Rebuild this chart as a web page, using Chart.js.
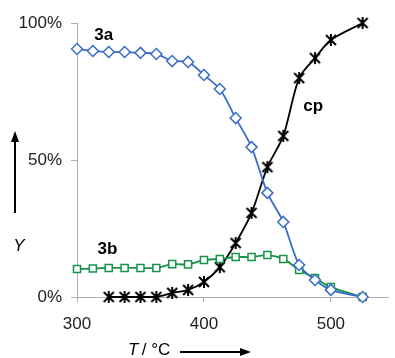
<!DOCTYPE html>
<html>
<head>
<meta charset="utf-8">
<script src="https://cdn.jsdelivr.net/npm/chart.js@4/dist/chart.umd.min.js"></script>
<style>
  html, body { margin: 0; padding: 0; background: #fff; }
  #wrap { width: 395px; height: 358px; position: relative; }
</style>
</head>
<body>
<div id="wrap"><canvas id="yieldChart"></canvas></div>
<script>
// temperatures in °C
const temps = [300, 312.5, 325, 337.5, 350, 362.5, 375, 387.5, 400, 412.5, 425, 437.5, 450, 462.5, 475, 487.5, 500, 525];
// yields in %
const yield3a = [90.5, 89.8, 89.4, 89.4, 89.1, 88.7, 86.1, 85.8, 81.0, 75.9, 65.3, 54.7, 38.0, 27.4, 11.7, 6.2, 2.6, 0];
const yield3b = [10.2, 10.4, 10.6, 10.6, 10.6, 10.6, 12.0, 11.9, 13.5, 13.9, 14.6, 14.6, 15.3, 13.9, 9.9, 6.9, 3.6, 0];
const yieldCp = [null, null, 0, 0, 0, 0, 1.5, 2.6, 5.5, 10.9, 19.7, 30.7, 47.4, 58.8, 79.9, 87.2, 93.8, 100];
const xTicks = [300, 400, 500];
const yTicks = [0, 50, 100];

const toPoints = (vals) => temps.map((t, i) => ({ x: t, y: vals[i] })).filter(p => p.y !== null);

// Excel style star marker: X with a vertical bar
function starMarker() {
  const c = document.createElement('canvas');
  c.width = 14; c.height = 14;
  const g = c.getContext('2d');
  g.strokeStyle = '#000';
  g.lineWidth = 2;
  g.beginPath();
  g.moveTo(2, 2); g.lineTo(12, 12);
  g.moveTo(12, 2); g.lineTo(2, 12);
  g.moveTo(7, 1); g.lineTo(7, 13);
  g.stroke();
  return c;
}

const labelsPlugin = {
  id: 'labels',
  afterDraw(chart) {
    const ctx = chart.ctx;
    const xs = chart.scales.x, ys = chart.scales.y;
    ctx.save();
    ctx.fillStyle = '#000';
    ctx.textAlign = 'center';
    ctx.textBaseline = 'middle';
    ctx.font = 'bold 17px "Liberation Sans", Arial, sans-serif';
    ctx.fillText('3a', xs.getPixelForValue(321), ys.getPixelForValue(95.5));
    ctx.fillText('3b', xs.getPixelForValue(324), ys.getPixelForValue(17.5));
    ctx.fillText('cp', xs.getPixelForValue(486), ys.getPixelForValue(69.5));

    // axis titles with arrows
    ctx.font = 'italic 17px "Liberation Sans", Arial, sans-serif';
    ctx.fillText('Y', 19, 246);
    ctx.textAlign = 'left';
    ctx.fillText('T', 128, 350);
    ctx.font = '17px "Liberation Sans", Arial, sans-serif';
    ctx.fillText(' / °C', 137, 350);

    ctx.strokeStyle = '#000';
    ctx.lineWidth = 2;
    ctx.beginPath();
    ctx.moveTo(15, 213); ctx.lineTo(15, 140);
    ctx.moveTo(180, 352); ctx.lineTo(242, 352);
    ctx.stroke();
    ctx.beginPath();
    ctx.moveTo(15, 131); ctx.lineTo(11, 142); ctx.lineTo(19, 142); ctx.closePath();
    ctx.moveTo(251, 352); ctx.lineTo(240, 348); ctx.lineTo(240, 356); ctx.closePath();
    ctx.fill();
    ctx.restore();
  }
};

new Chart(document.getElementById('yieldChart'), {
  type: 'line',
  data: {
    datasets: [{
      label: '3a',
      data: toPoints(yield3a),
      borderColor: '#3a6cc8',
      borderWidth: 1.8,
      pointStyle: 'rectRot',
      pointRadius: 5.5,
      pointBorderWidth: 1.5,
      pointBorderColor: '#3a6cc8',
      pointBackgroundColor: '#fff',
      tension: 0.3,
    }, {
      label: '3b',
      data: toPoints(yield3b),
      borderColor: '#17924a',
      borderWidth: 1.8,
      pointStyle: 'rect',
      pointRadius: 5,
      pointBorderWidth: 1.5,
      pointBorderColor: '#17924a',
      pointBackgroundColor: '#fff',
      tension: 0.3,
    }, {
      label: 'cp',
      data: toPoints(yieldCp),
      borderColor: '#000',
      borderWidth: 1.8,
      pointStyle: starMarker(),
      tension: 0.3,
    }]
  },
  options: {
    responsive: true,
    maintainAspectRatio: false,
    animation: false,
    clip: false,
    layout: { padding: { top: 23, right: 0, bottom: 0, left: 0 } },
    plugins: {
      legend: { display: false },
      tooltip: { enabled: false },
    },
    scales: {
      x: {
        type: 'linear',
        min: 300,
        max: 545,
        afterBuildTicks: (axis) => { axis.ticks = xTicks.map(v => ({ value: v })); },
        afterFit: (scale) => { scale.height = 61; },
        border: { color: '#b0b0b0', width: 1 },
        grid: { drawOnChartArea: false, drawTicks: true, tickLength: 5, color: '#b0b0b0' },
        ticks: {
          color: '#222',
          padding: 12,
          maxRotation: 0,
          font: { family: '"Liberation Sans", Arial, sans-serif', size: 17 },
        },
      },
      y: {
        min: 0,
        max: 100,
        afterBuildTicks: (axis) => { axis.ticks = yTicks.map(v => ({ value: v })); },
        afterFit: (scale) => { scale.width = 77; },
        border: { color: '#b0b0b0', width: 1 },
        grid: { drawOnChartArea: false, drawTicks: true, tickLength: 6, color: '#b0b0b0' },
        ticks: {
          color: '#222',
          padding: 9,
          callback: (v) => v + '%',
          font: { family: '"Liberation Sans", Arial, sans-serif', size: 17 },
        },
      }
    }
  },
  plugins: [labelsPlugin]
});
</script>
</body>
</html>
